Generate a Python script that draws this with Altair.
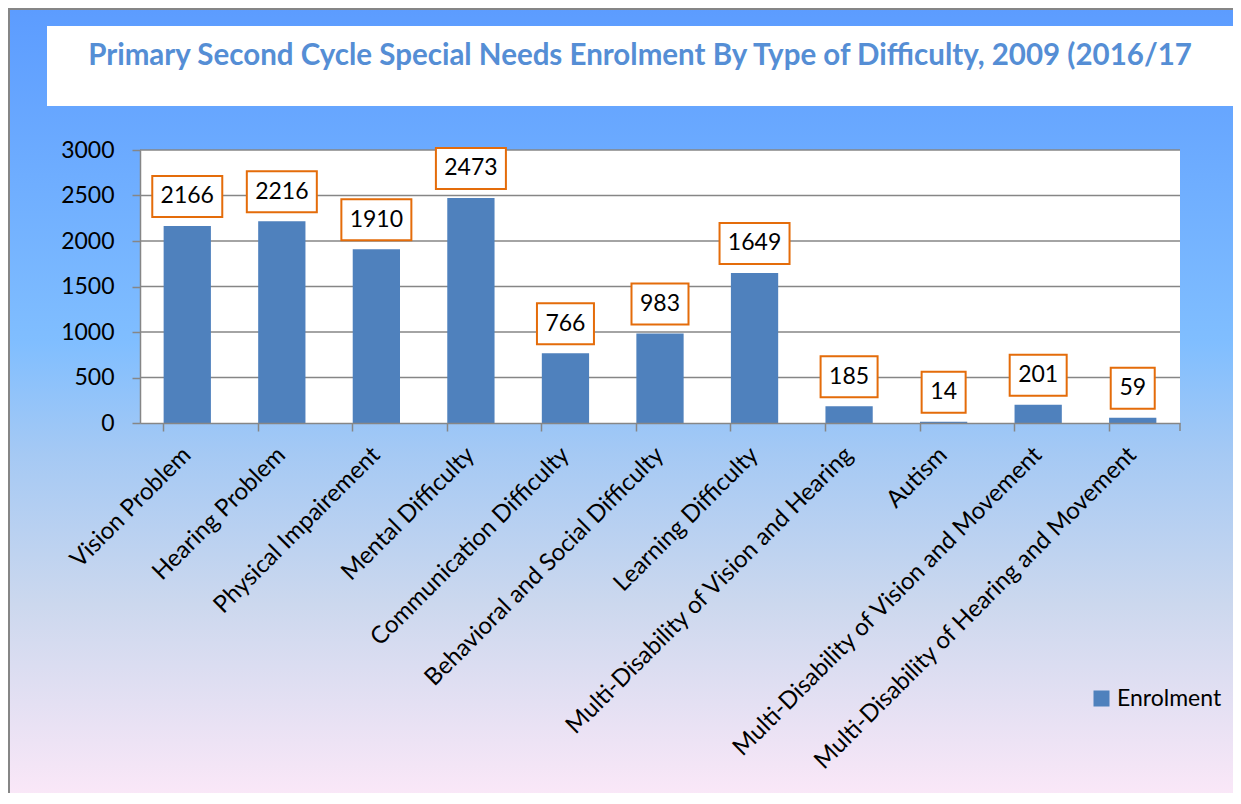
import altair as alt
import pandas as pd

categories = [
    "Vision Problem", "Hearing Problem", "Physical Impairement", "Mental Difficulty",
    "Communication Difficulty", "Behavioral and Social Difficulty", "Learning Difficulty",
    "Multi-Disability of Vision and Hearing", "Autism",
    "Multi-Disability of Vision and Movement", "Multi-Disability of Hearing and Movement",
]
enrolment = [2166, 2216, 1910, 2473, 766, 983, 1649, 185, 14, 201, 59]
y_ticks = [0, 500, 1000, 1500, 2000, 2500, 3000]
grid_values = [500, 1000, 1500, 2000, 2500, 3000]
series_name = "Enrolment"
title_text = "Primary Second Cycle Special Needs Enrolment By Type of Difficulty, 2009 (2016/17"

W, H = 1040, 273
PL, PT, PR, PB = 132, 142, 53, 370
FONT = "Lato"
GRAY = "#868686"
BAR = "#4F81BD"
ORANGE = "#E46C0A"

df = pd.DataFrame({"Category": categories, "Enrolment": enrolment, "Series": series_name})
df["digits"] = df["Enrolment"].astype(str).str.len()
grid_df = pd.DataFrame({"v": grid_values})
one = pd.DataFrame({"k": [0]})


def box_path(n):
    hw = (13 * n + 18) / 2 / 35
    hh = 20.5 / 35
    return f"M{-hw:.4f},{-hh:.4f}L{hw:.4f},{-hh:.4f}L{hw:.4f},{hh:.4f}L{-hw:.4f},{hh:.4f}Z"


y_scale = alt.Scale(domain=[0, 3000], nice=False)
x_scale = alt.Scale(paddingInner=0.5, paddingOuter=0.25)
x_axis = alt.Axis(
    title=None, labelAngle=-45, labelAlign="right", labelBaseline="middle",
    labelFont=FONT, labelFontSize=24, labelColor="black", labelPadding=20,
    labelLimit=0, bandPosition=0, tickSize=8, tickColor=GRAY, tickWidth=1.5,
    domainColor=GRAY, domainWidth=1.5, grid=False, zindex=1, labelOverlap=False,
)
y_axis = alt.Axis(
    title=None, values=y_ticks, format="d", grid=False, labelFont=FONT, labelFontSize=23,
    labelColor="black", labelPadding=18, tickSize=8, tickColor=GRAY, tickWidth=1.5,
    domainColor=GRAY, domainWidth=1.5, zindex=1,
)
x_enc = alt.X("Category:N", sort=categories, scale=x_scale, axis=x_axis)
y_enc = alt.Y("Enrolment:Q", scale=y_scale, axis=y_axis)

gradient = alt.LinearGradient(
    gradient="linear",
    stops=[
        alt.GradientStop(color="#5C9CFF", offset=0),
        alt.GradientStop(color="#80BEFF", offset=0.42),
        alt.GradientStop(color="#A5C9F4", offset=0.56),
        alt.GradientStop(color="#CCD8EE", offset=0.75),
        alt.GradientStop(color="#FCE8F8", offset=1),
    ],
    x1=0, x2=0, y1=0, y2=1,
)

background = alt.Chart(one).mark_rect(fill=gradient, stroke=GRAY, strokeWidth=2).encode(
    x=alt.value(-PL + 1), x2=alt.value(W + PR + 10),
    y=alt.value(-PT + 1), y2=alt.value(H + PB + 10),
)
title_box = alt.Chart(one).mark_rect(fill="white").encode(
    x=alt.value(-93), x2=alt.value(1094), y=alt.value(-124), y2=alt.value(-44),
)
title = alt.Chart(one).mark_text(
    text=title_text, font=FONT, fontSize=29.5, fontWeight="bold", color="#558ED5",
    align="center", baseline="alphabetic",
).encode(x=alt.value(500), y=alt.value(-85))
plot_bg = alt.Chart(one).mark_rect(fill="white").encode(
    x=alt.value(0), x2=alt.value(W), y=alt.value(0), y2=alt.value(H),
)
grid = alt.Chart(grid_df).mark_rule(color=GRAY, strokeWidth=1.5).encode(
    y=alt.Y("v:Q", scale=y_scale, axis=y_axis),
)
end_tick = alt.Chart(one).mark_rule(color=GRAY, strokeWidth=1.5).encode(
    x=alt.value(W), y=alt.value(H), y2=alt.value(H + 8),
)
bars = alt.Chart(df).mark_bar().encode(
    x=x_enc, y=y_enc,
    color=alt.Color(
        "Series:N", scale=alt.Scale(range=[BAR]),
        legend=alt.Legend(
            title=None, orient="none", legendX=950, legendY=537, symbolType="square",
            symbolSize=256, symbolStrokeWidth=0, labelFont=FONT, labelFontSize=23,
            labelColor="black", labelOffset=4, padding=0,
        ),
    ),
)
boxes = alt.Chart(df).mark_point(
    filled=True, fill="white", stroke=ORANGE, strokeWidth=2, opacity=1, size=4900,
    yOffset=-29.5,
).encode(
    x=x_enc, y=y_enc,
    shape=alt.Shape("digits:O", scale=alt.Scale(domain=[1, 2, 3, 4],
                    range=[box_path(n) for n in [1, 2, 3, 4]]), legend=None),
)
labels = alt.Chart(df).mark_text(
    font=FONT, fontSize=23, color="black", baseline="middle", yOffset=-29.5,
).encode(x=x_enc, y=y_enc, text="Enrolment:Q")

chart = alt.layer(background, title_box, title, plot_bg, grid, end_tick, bars, boxes, labels).properties(
    width=W, height=H,
    autosize=alt.AutoSizeParams(type="none"),
    padding={"left": PL, "top": PT, "right": PR, "bottom": PB},
).configure_view(stroke=None)

chart.save("out.html", embed_options={"renderer": "svg", "actions": False})
